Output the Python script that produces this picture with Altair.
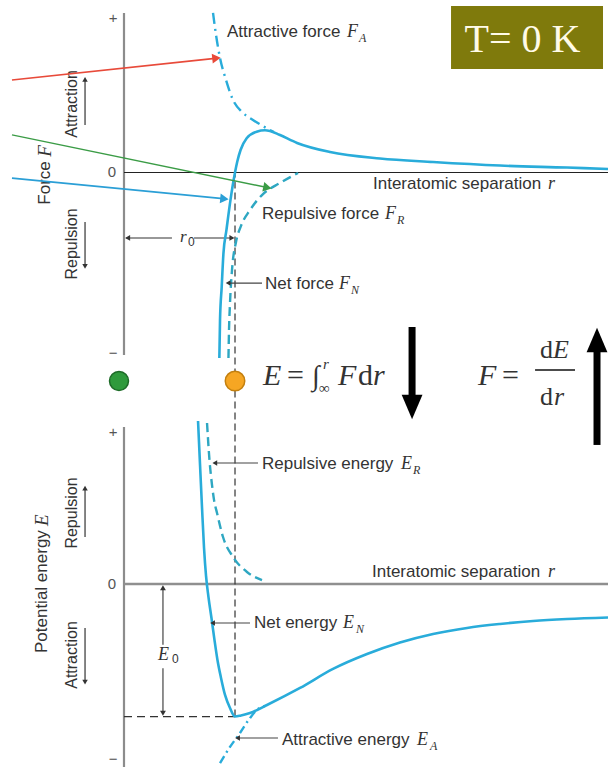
import math
import altair as alt
import pandas as pd

W, H = 608, 767

# Shared horizontal axis: interatomic separation r, in units of r0
R_DOMAIN = [-1.117, 4.360]
# Vertical scales of the two panels (arbitrary units, "+" tick = 1)
F_DOMAIN = [-3.860, 1.120]   # force panel (top)
E_DOMAIN = [-1.204, 3.842]   # energy panel (bottom)

R0 = 1.0       # equilibrium separation
E0 = -0.872    # depth of the potential well
R_END = 4.36   # right end of the separation axes

# ---- force curves ----
fn_r = [0.859, 0.865, 0.880, 0.896, 0.923, 0.959, 1.000, 1.020, 1.050, 1.105, 1.195,
        1.270, 1.315, 1.400, 1.559, 1.856, 2.306, 2.784, 3.387, 3.991, 4.360]
fn_F = [-1.205, -0.958, -0.744, -0.523, -0.373, -0.179, 0.000, 0.070, 0.146, 0.222, 0.265,
        0.274, 0.269, 0.245, 0.192, 0.133, 0.091, 0.068, 0.045, 0.032, 0.023]

fa_r = [0.802, 0.829, 0.865, 0.919, 0.982, 1.063, 1.162, 1.250, 1.350]
fa_F = [1.036, 0.893, 0.744, 0.601, 0.471, 0.393, 0.341, 0.302, 0.262]

fr_r = [0.941, 0.946, 0.955, 0.973, 1.009, 1.054, 1.135, 1.252, 1.405, 1.568]
fr_F = [-1.205, -1.023, -0.847, -0.633, -0.451, -0.347, -0.244, -0.140, -0.068, -0.003]

# ---- energy curves ----
en_r = [0.667, 0.685, 0.703, 0.721, 0.739, 0.761, 0.788, 0.815, 0.842, 0.874, 0.910, 0.955,
        1.000, 1.054, 1.135, 1.288, 1.586, 1.883, 2.189, 2.486, 2.784, 3.090, 3.387, 3.685,
        3.991, 4.360]
en_E = [1.072, 0.783, 0.500, 0.237, 0.053, -0.086, -0.224, -0.368, -0.500, -0.618, -0.730,
        -0.816, -0.872, -0.865, -0.849, -0.796, -0.684, -0.559, -0.461, -0.385, -0.329,
        -0.289, -0.263, -0.243, -0.230, -0.220]

er_r = [0.748, 0.770, 0.793, 0.811, 0.838, 0.892, 0.982, 1.108, 1.243]
er_E = [1.059, 0.816, 0.651, 0.553, 0.467, 0.309, 0.178, 0.079, 0.026]

ea_r = [0.865, 0.955, 1.045, 1.135, 1.207, 1.270]
ea_E = [-1.178, -1.072, -0.980, -0.882, -0.822, -0.803]

# ---- styles ----
CURVE = "#29acda"
DASHED = "#2ea7c2"
AXIS_GRAY = "#8c8c8c"
INK = "#333333"
SANS = "Liberation Sans"
SERIF = "Liberation Serif"
LABEL_SIZE = 17

xs = alt.Scale(domain=R_DOMAIN, nice=False, zero=False)
fsc = alt.Scale(domain=F_DOMAIN, nice=False, zero=False)
esc = alt.Scale(domain=E_DOMAIN, nice=False, zero=False)

PX_R = W / (R_DOMAIN[1] - R_DOMAIN[0])
PX_F = H / (F_DOMAIN[1] - F_DOMAIN[0])


def enc(scale):
    return dict(x=alt.X("r:Q", scale=xs, axis=None),
                y=alt.Y("v:Q", scale=scale, axis=None))


def curve(rs, vs, scale, **style):
    df = pd.DataFrame({"r": rs, "v": vs})
    return alt.Chart(df).mark_line(interpolate="monotone", **style).encode(**enc(scale))


def segs(rows, scale, **style):
    df = pd.DataFrame(rows, columns=["r", "v", "r2", "v2"])
    return alt.Chart(df).mark_rule(**style).encode(**enc(scale), x2="r2:Q", y2="v2:Q")


def texts(rows, scale, **style):
    df = pd.DataFrame(rows, columns=["r", "v", "t"])
    base = dict(baseline="middle", color=INK)
    base.update(style)
    return alt.Chart(df).mark_text(**base).encode(**enc(scale), text="t:N")


def heads(rows, scale, size=32, color=INK, shape="triangle"):
    df = pd.DataFrame(rows, columns=["r", "v", "a"])
    return alt.Chart(df).mark_point(filled=True, opacity=1, size=size, color=color,
                                    shape=shape).encode(**enc(scale),
                                                        angle=alt.Angle("a:Q", scale=None))


def label(rows, scale, size=LABEL_SIZE):
    return texts(rows, scale, align="left", font=SANS, fontSize=size)


def math_text(rows, scale, size=18, italic=True, align="left"):
    kw = dict(align=align, font=SERIF, fontSize=size)
    if italic:
        kw["fontStyle"] = "italic"
    return texts(rows, scale, **kw)


# colored pointer arrows from the left margin onto the force curves
pointers = [
    (-1.009, 0.601, 0.856, 0.744, "#e84a3a", 1.6),
    (-1.009, 0.244, 1.315, -0.101, "#3b9c46", 1.4),
    (-1.009, -0.036, 0.928, -0.172, "#2b9fd6", 1.8),
]
pointer_layers = []
for r1, v1, r2, v2, col, w in pointers:
    dx = (r2 - r1) * PX_R
    dy = -(v2 - v1) * PX_F
    ln = math.hypot(dx, dy)
    ang = math.degrees(math.atan2(dx, -dy)) % 360
    hr = r2 - 4 * dx / ln / PX_R
    hv = v2 + 4 * dy / ln / PX_F
    pointer_layers.append(segs([(r1, v1, hr, hv)], fsc, color=col, strokeWidth=w))
    pointer_layers.append(heads([(hr, hv, ang)], fsc, size=95, color=col))

# ---------------- force panel ----------------
force = alt.layer(
    segs([(0, 1.036, 0, -1.185)], fsc, color=AXIS_GRAY, strokeWidth=2.2),
    segs([(0, 0, R_END, 0)], fsc, color="#222222", strokeWidth=1.2),
    texts([(-0.099, 1.0, "+"), (-0.108, 0.0, "0"), (-0.099, -1.172, "\u2212")], fsc,
          align="center", font=SANS, fontSize=15, color="#555555"),
    # rotated axis titles
    texts([(-0.712, -0.068, "Force")], fsc, align="center", font=SANS, fontSize=17, angle=270),
    texts([(-0.712, 0.140, "F")], fsc, align="center", font=SERIF, fontSize=19,
          fontStyle="italic", angle=270),
    texts([(-0.468, 0.445, "Attraction"), (-0.468, -0.464, "Repulsion")], fsc,
          align="center", font=SANS, fontSize=16, angle=270),
    segs([(-0.351, 0.308, -0.351, 0.600), (-0.351, -0.321, -0.351, -0.605)], fsc,
         color=INK, strokeWidth=1.2),
    heads([(-0.351, 0.600, 0), (-0.351, -0.605, 180)], fsc, size=30),
    # r0 dimension
    segs([(0.02, -0.425, 0.432, -0.425), (0.631, -0.425, 0.98, -0.425)], fsc,
         color=INK, strokeWidth=1.1),
    heads([(0.04, -0.425, 270), (0.965, -0.425, 90)], fsc, size=34),
    math_text([(0.505, -0.419, "r")], fsc, size=17),
    label([(0.577, -0.451, "0")], fsc, size=12),
    # curves
    curve(fr_r, fr_F, fsc, color=DASHED, strokeWidth=2.4, strokeDash=[9, 5]),
    curve(fa_r, fa_F, fsc, color=CURVE, strokeWidth=2.4, strokeDash=[11, 5, 2, 5]),
    curve(fn_r, fn_F, fsc, color=CURVE, strokeWidth=2.6),
    # curve labels
    label([(0.928, 0.912, "Attractive force")], fsc),
    math_text([(2.009, 0.912, "F")], fsc),
    math_text([(2.117, 0.873, "A")], fsc, size=12),
    label([(2.243, -0.075, "Interatomic separation")], fsc),
    math_text([(3.820, -0.075, "r")], fsc),
    label([(1.243, -0.269, "Repulsive force")], fsc),
    math_text([(2.351, -0.269, "F")], fsc),
    math_text([(2.459, -0.308, "R")], fsc, size=12),
    segs([(0.94, -0.718, 1.243, -0.718)], fsc, color="#444444", strokeWidth=1.1),
    heads([(0.945, -0.718, 270)], fsc, size=30),
    label([(1.270, -0.724, "Net force")], fsc),
    math_text([(1.937, -0.724, "F")], fsc),
    math_text([(2.045, -0.763, "N")], fsc, size=12),
    *pointer_layers,
    # atoms
    alt.Chart(pd.DataFrame({"r": [-0.045], "v": [-1.354]})).mark_circle(
        size=360, color="#2f9a3c", stroke="#1e6b28", strokeWidth=1.5, opacity=1
    ).encode(**enc(fsc)),
    alt.Chart(pd.DataFrame({"r": [R0], "v": [-1.354]})).mark_circle(
        size=380, color="#f6a623", stroke="#c4800f", strokeWidth=1.5, opacity=1
    ).encode(**enc(fsc)),
    # E = integral of F dr
    math_text([(1.252, -1.321, "E"), (1.928, -1.321, "F"), (2.243, -1.321, "r")], fsc, size=30),
    math_text([(1.468, -1.321, "="), (2.108, -1.321, "d")], fsc, size=30, italic=False),
    math_text([(1.694, -1.330, "\u222b")], fsc, size=28, italic=False),
    math_text([(1.793, -1.243, "r")], fsc, size=15),
    math_text([(1.757, -1.399, "\u221e")], fsc, size=15, italic=False),
    # F = dE/dr
    math_text([(3.190, -1.321, "F")], fsc, size=30),
    math_text([(3.405, -1.321, "=")], fsc, size=30, italic=False),
    segs([(3.703, -1.282, 4.063, -1.282)], fsc, color="#111111", strokeWidth=1.4),
    math_text([(3.748, -1.153, "d"), (3.748, -1.458, "d")], fsc, size=26, italic=False),
    math_text([(3.865, -1.153, "E"), (3.874, -1.458, "r")], fsc, size=26),
    # big direction arrows
    segs([(2.595, -1.003, 2.595, -1.470), (4.261, -1.769, 4.261, -1.120)], fsc,
         color="black", strokeWidth=7),
    heads([(2.595, -1.523, 0)], fsc, size=600, color="black", shape="M-0.85,-1L0.85,-1L0,1Z"),
    heads([(4.261, -1.088, 0)], fsc, size=600, color="black", shape="M-0.85,1L0.85,1L0,-1Z"),
    # temperature badge
    alt.Chart(pd.DataFrame({"r": [2.946], "r2": [4.315], "v": [1.081], "v2": [0.672]}))
    .mark_rect(color="#7f7a0c").encode(**enc(fsc), x2="r2:Q", y2="v2:Q"),
    texts([(3.590, 0.862, "T= 0 K")], fsc, align="center", font=SERIF, fontSize=40,
          color="#fffbe8"),
)

# ---------------- energy panel ----------------
energy = alt.layer(
    segs([(0, 1.033, 0, -1.204)], esc, color=AXIS_GRAY, strokeWidth=2.2),
    segs([(0, 0, R_END, 0)], esc, color="#8f8f8f", strokeWidth=2.5),
    texts([(-0.099, 1.0, "+"), (-0.108, 0.0, "0"), (-0.099, -1.150, "\u2212")], esc,
          align="center", font=SANS, fontSize=15, color="#555555"),
    texts([(-0.739, -0.05, "Potential energy")], esc, align="center", font=SANS,
          fontSize=17, angle=270),
    texts([(-0.739, 0.42, "E")], esc, align="center", font=SERIF, fontSize=19,
          fontStyle="italic", angle=270),
    texts([(-0.468, 0.467, "Repulsion"), (-0.468, -0.467, "Attraction")], esc,
          align="center", font=SANS, fontSize=16, angle=270),
    segs([(-0.351, 0.309, -0.351, 0.625), (-0.351, -0.289, -0.351, -0.640)], esc,
         color=INK, strokeWidth=1.2),
    heads([(-0.351, 0.625, 0), (-0.351, -0.640, 180)], esc, size=30),
    # E0 dimension
    segs([(0.351, -0.02, 0.351, -0.40), (0.351, -0.555, 0.351, -0.85)], esc,
         color=INK, strokeWidth=1.1),
    heads([(0.351, -0.03, 0), (0.351, -0.845, 180)], esc, size=34),
    math_text([(0.306, -0.467, "E")], esc, size=18),
    label([(0.432, -0.493, "0")], esc, size=12),
    segs([(0, E0, R0, E0)], esc, color=INK, strokeWidth=1.2, strokeDash=[8, 5]),
    segs([(R0, E0, R0, 2.704)], esc, color=INK, strokeWidth=1.2, strokeDash=[7, 4]),
    # curves
    curve(er_r, er_E, esc, color=DASHED, strokeWidth=2.4, strokeDash=[9, 5]),
    curve(ea_r, ea_E, esc, color=CURVE, strokeWidth=2.4, strokeDash=[8, 4, 2, 4]),
    curve(en_r, en_E, esc, color=CURVE, strokeWidth=2.6),
    # labels and leaders
    segs([(0.82, 0.796, 1.207, 0.796)], esc, color="#444444", strokeWidth=1.1),
    heads([(0.825, 0.796, 270)], esc, size=30),
    label([(1.243, 0.789, "Repulsive energy")], esc),
    math_text([(2.495, 0.789, "E")], esc),
    math_text([(2.604, 0.750, "R")], esc, size=12),
    label([(2.234, 0.079, "Interatomic separation")], esc),
    math_text([(3.820, 0.079, "r")], esc),
    segs([(0.80, -0.257, 1.135, -0.257)], esc, color="#444444", strokeWidth=1.1),
    heads([(0.805, -0.257, 270)], esc, size=30),
    label([(1.171, -0.257, "Net energy")], esc),
    math_text([(1.973, -0.257, "E")], esc),
    math_text([(2.090, -0.296, "N")], esc, size=12),
    segs([(1.025, -1.013, 1.387, -1.013)], esc, color="#444444", strokeWidth=1.1),
    heads([(1.03, -1.013, 270)], esc, size=30),
    label([(1.423, -1.026, "Attractive energy")], esc),
    math_text([(2.640, -1.026, "E")], esc),
    math_text([(2.757, -1.066, "A")], esc, size=12),
)

chart = (
    alt.layer(energy, force)
    .resolve_scale(y="independent")
    .properties(width=W, height=H, padding=0, background="white",
                autosize=alt.AutoSizeParams(type="none"))
    .configure_view(stroke=None)
)

chart.save("out.html", embed_options={"renderer": "svg", "actions": False})
